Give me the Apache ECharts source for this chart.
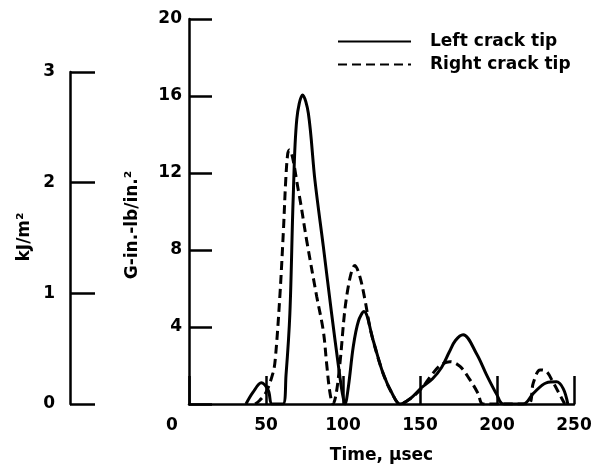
<!DOCTYPE html>
<html>
<head>
<meta charset="utf-8">
<script src="https://cdn.jsdelivr.net/npm/echarts@6/dist/echarts.min.js"></script>
<style>html,body{margin:0;padding:0;background:#fff}#c{width:598px;height:469px}</style>
</head>
<body>
<div id="c"></div>
<script>
// Data (time in µsec, G in in.-lb/in.^2)
var leftTip = [[37,0],[41.5,0.6],[47,1.1],[51.5,0.7],[54,0],[61,0],[63,1.5],[65.5,4.7],[67.7,10.8],[70,14.8],[73.8,16.05],[77.5,15.1],[81.8,11.6],[87.2,8.2],[92.6,4.7],[97,2.0],[99.5,0.6],[101.3,0],[103.5,0.9],[106.7,3.0],[110,4.3],[113.6,4.8],[119.6,3.3],[126,1.6],[132.5,0.45],[137,0],[144,0.3],[151,0.85],[158,1.3],[164,1.9],[169,2.7],[173,3.3],[178,3.6],[186.8,2.6],[193.3,1.5],[199.8,0.5],[204,0],[217,0],[223.6,0.55],[232,1.1],[238.6,1.15],[243,0.8],[246,0]];
var rightTip = [[43,0],[46,0.2],[50,0.6],[54.5,1.6],[56,2.3],[59,5.6],[61.3,9],[62.8,11.6],[64.1,13],[65.1,13.2],[71,11.1],[76.4,8.5],[82.9,5.6],[87.2,3.8],[89.5,2.0],[91.5,0.6],[93.5,0],[95.5,0.5],[98,2.1],[102.4,5.6],[107.8,7.2],[111,6.6],[114.3,5.4],[118,3.8],[126,1.6],[132.5,0.45],[137,0],[144,0.3],[151,0.8],[156.5,1.4],[163,2.0],[169.5,2.2],[176,1.95],[182.5,1.25],[187.7,0.55],[191,0],[220,0],[223.6,1.1],[228,1.77],[232,1.7],[236.6,1.1],[241,0.45],[244,0]];
var gTicks = [0,4,8,12,16,20];
var kjTicks = [0,1,2,3];
var timeTicks = [0,50,100,150,200,250];
var seriesNames = ['Left crack tip','Right crack tip'];

var FONT = '"DejaVu Sans", Arial, Helvetica, sans-serif';
var chart = echarts.init(document.getElementById('c'), null, {renderer:'canvas'});
var axisLine = {show:true, lineStyle:{color:'#000', width:2.5}};
var tick = function(len){return {show:true, inside:true, length:len, lineStyle:{color:'#000', width:2.5}};};
var lbl = {color:'#000', fontFamily:FONT, fontWeight:'bold', fontSize:17};

chart.setOption({
  animation:false,
  backgroundColor:'#fff',
  grid:[
    {left:189, right:24, top:19, bottom:65},
    {left:70, width:1, top:72, bottom:65}
  ],
  legend:{
    orient:'vertical', left:332, top:28, itemWidth:73, itemHeight:14, itemGap:6,
    data:seriesNames,
    itemStyle:{opacity:0},
    textStyle:{color:'#000', fontFamily:FONT, fontWeight:'bold', fontSize:17, padding:[0,0,0,14]}
  },
  xAxis:[
    {type:'value', gridIndex:0, min:timeTicks[0], max:timeTicks[timeTicks.length-1], interval:50,
     axisLine:axisLine, axisTick:tick(28), splitLine:{show:false},
     axisLabel:Object.assign({margin:13, formatter:function(v){return v===0?'{z|0}':String(v);},
       rich:{z:{color:'#000', fontFamily:FONT, fontWeight:'bold', fontSize:17, padding:[0,34,0,0]}}}, lbl),
     name:'Time, \u03bcsec', nameLocation:'middle', nameGap:43,
     nameTextStyle:{color:'#000', fontFamily:FONT, fontWeight:'bold', fontSize:17}},
    {type:'value', gridIndex:1, min:0, max:1, show:false}
  ],
  yAxis:[
    {type:'value', gridIndex:0, min:gTicks[0], max:gTicks[gTicks.length-1], interval:4,
     axisLine:axisLine, axisTick:tick(23), splitLine:{show:false},
     axisLabel:Object.assign({margin:7, formatter:function(v){return v===0?'':String(v);}}, lbl)},
    {type:'value', gridIndex:1, min:kjTicks[0], max:kjTicks[kjTicks.length-1], interval:1,
     axisLine:axisLine, axisTick:tick(25), splitLine:{show:false},
     axisLabel:Object.assign({margin:15}, lbl)}
  ],
  graphic:[
    {type:'text', x:133, y:225, rotation:Math.PI/2,
     style:{text:'G-in.-lb/in.\u00b2', fill:'#000', font:'bold 17px '+FONT, align:'center', verticalAlign:'middle'}},
    {type:'text', x:25, y:237, rotation:Math.PI/2,
     style:{text:'kJ/m\u00b2', fill:'#000', font:'bold 17px '+FONT, align:'center', verticalAlign:'middle'}}
  ],
  series:[
    {name:seriesNames[0], type:'line', xAxisIndex:0, yAxisIndex:0, data:leftTip, smooth:0.35,
     showSymbol:false, symbol:'none', lineStyle:{color:'#000', width:3, type:'solid'}, itemStyle:{color:'#000'}},
    {name:seriesNames[1], type:'line', xAxisIndex:0, yAxisIndex:0, data:rightTip, smooth:0.35,
     showSymbol:false, symbol:'none', lineStyle:{color:'#000', width:3, type:[9,5]}, itemStyle:{color:'#000'}}
  ]
});
</script>
</body>
</html>
